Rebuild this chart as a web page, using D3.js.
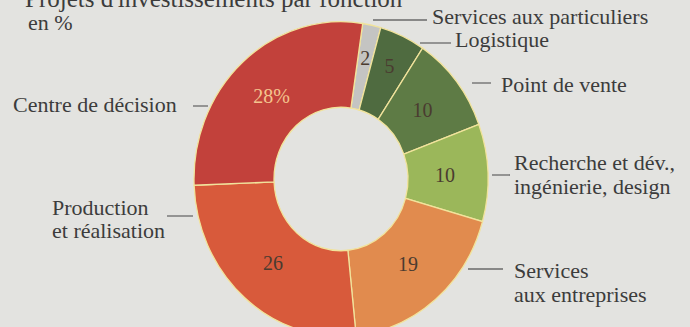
<!DOCTYPE html>
<html>
<head>
  <meta charset="utf-8">
  <title>Projets d'investissements par fonction</title>
  <script src="https://d3js.org/d3.v7.min.js"></script>
  <style>
    body { margin: 0; background: #e3e3e0; }
    text { font-family: "Liberation Serif", "DejaVu Serif", serif; }
  </style>
</head>
<body>
<script>
  // data, clockwise from the top
  var categories = ["Services aux particuliers", "Logistique", "Point de vente",
                    "Recherche et dév., ingénierie, design", "Services aux entreprises",
                    "Production et réalisation", "Centre de décision"];
  var values = [2, 5, 10, 10, 19, 26, 28];
  var valueLabels = ["2", "5", "10", "10", "19", "26", "28%"];
  var labelLines = [["Services aux particuliers"], ["Logistique"], ["Point de vente"],
                    ["Recherche et dév.,", "ingénierie, design"], ["Services", "aux entreprises"],
                    ["Production", "et réalisation"], ["Centre de décision"]];
  var colors = ["#c4c4c2", "#4f6b40", "#5e7b45", "#9bb75a", "#e18b4e", "#d85a3b", "#c2413b"];

  var width = 690, height = 327;
  var cx = 341, cy = 179, stretch = 1.07;   // the scan is a little taller than wide
  var outerR = 147, innerR = 67;
  var offset = 8.5 * Math.PI / 180;

  // where the category names and their little leader lines go
  var labelLayout = [
    { x: 432, y: 24,  lh: 0,  lx1: 373, lx2: 427, ly: 20 },
    { x: 455, y: 47,  lh: 0,  lx1: 420, lx2: 451, ly: 43 },
    { x: 501, y: 92,  lh: 0,  lx1: 472, lx2: 491, ly: 83 },
    { x: 514, y: 170, lh: 24, lx1: 492, lx2: 510, ly: 175 },
    { x: 514, y: 278, lh: 24, lx1: 468, lx2: 503, ly: 269 },
    { x: 52,  y: 215, lh: 23, lx1: 167, lx2: 193, ly: 216 },
    { x: 13,  y: 112, lh: 0,  lx1: 193, lx2: 208, ly: 106 }
  ];

  var svg = d3.select("body").append("svg").attr("width", width).attr("height", height);
  svg.append("rect").attr("width", width).attr("height", height).attr("fill", "#e3e3e0");

  // title (cut by the top of the scan)
  svg.append("text").attr("x", 25).attr("y", 7).attr("font-size", "25px").attr("fill", "#3c3c3c")
    .text("Projets d'investissements par fonction");
  svg.append("text").attr("x", 28).attr("y", 30).attr("font-size", "22px").attr("fill", "#3c3c3c")
    .text("en %");

  var pie = d3.pie().sort(null).value(function(d) { return d; })
    .startAngle(offset).endAngle(offset + 2 * Math.PI);
  var arcs = pie(values);

  var arc = d3.arc().innerRadius(innerR).outerRadius(outerR);

  var ring = svg.append("g")
    .attr("transform", "translate(" + cx + "," + cy + ") scale(1," + stretch + ")");

  ring.selectAll("path")
    .data(arcs)
    .enter().append("path")
    .attr("d", arc)
    .attr("fill", function(d, i) { return colors[i]; })
    .attr("stroke", "#f1e39c")
    .attr("stroke-width", 1.3);

  // values inside the slices
  var labelArc = d3.arc();
  svg.selectAll(".val")
    .data(arcs)
    .enter().append("text")
    .attr("class", "val")
    .attr("transform", function(d) {
      var r = d.value < 8 ? 116 : 104;
      var c = labelArc.innerRadius(r).outerRadius(r).centroid(d);
      return "translate(" + (cx + c[0]) + "," + (cy + c[1] * stretch) + ")";
    })
    .attr("dy", "0.35em")
    .attr("text-anchor", "middle")
    .attr("font-size", "20px")
    .attr("fill", function(d, i) { return i === 6 ? "#f4c48e" : "#4a3b30"; })
    .text(function(d, i) { return valueLabels[i]; });

  // category names
  var names = svg.selectAll(".name")
    .data(labelLayout)
    .enter().append("g")
    .attr("class", "name");

  names.append("line")
    .attr("x1", function(d) { return d.lx1; })
    .attr("x2", function(d) { return d.lx2; })
    .attr("y1", function(d) { return d.ly; })
    .attr("y2", function(d) { return d.ly; })
    .attr("stroke", "#6a6a6a")
    .attr("stroke-width", 1.3);

  names.each(function(d, i) {
    var t = d3.select(this).append("text")
      .attr("x", d.x).attr("y", d.y)
      .attr("font-size", "22px")
      .attr("fill", "#3c3c3c");
    labelLines[i].forEach(function(s, k) {
      t.append("tspan").attr("x", d.x).attr("y", d.y + k * d.lh).text(s);
    });
  });
</script>
</body>
</html>
